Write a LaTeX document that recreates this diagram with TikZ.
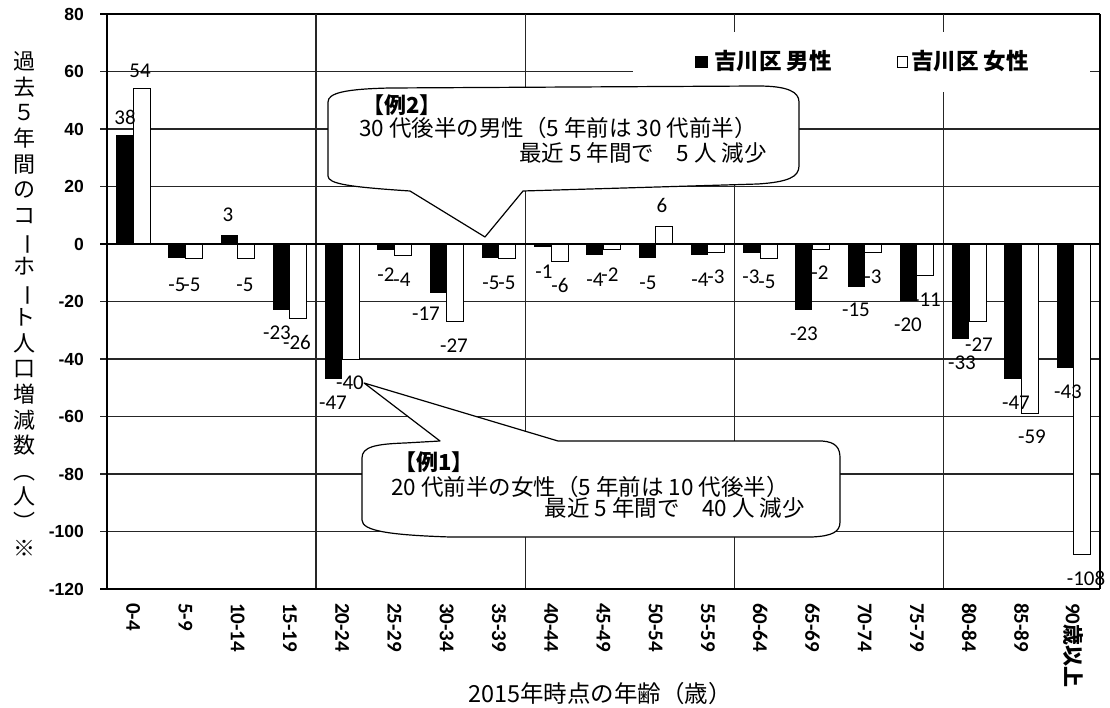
\documentclass[tikz,border=0pt]{standalone}
\usepackage{fontspec}
\newfontfamily\jpfont{Noto Sans CJK JP}
\newfontfamily\labfont{Carlito}
\newfontfamily\axfont{Liberation Sans}
\begin{document}
\begin{tikzpicture}[x=1pt,y=-1pt,
  grid/.style={line width=1.1pt, black!85},
  dl/.style={font=\labfont\fontsize{21}{21}\selectfont, inner sep=0pt},
  tk/.style={font=\axfont\bfseries\fontsize{17.5}{17.5}\selectfont, inner sep=0pt, anchor=east},
  catlab/.style={font=\labfont\bfseries\fontsize{21}{21}\selectfont, inner sep=0pt, anchor=west, rotate=-90},
  callout/.style={draw=black, line width=1.2pt, fill=white, line join=round},
  ctext/.style={font=\jpfont\fontsize{22.5}{22.5}\selectfont, inner sep=0pt},
  ctitle/.style={font=\jpfont\bfseries\fontsize{22}{22}\selectfont, inner sep=0pt},
  leg/.style={font=\jpfont\bfseries\fontsize{22.5}{22.5}\selectfont, inner sep=0pt, anchor=west},
  malebar/.style={fill=black},
  femalebar/.style={draw=black, line width=1pt, fill=white},
]
\useasboundingbox (0,0) rectangle (1110,708);
\fill[white] (0,0) rectangle (1110,708);

% gridlines and frame
\foreach \v in {-100,-80,...,60} \draw[grid] (100,{244-2.875*\v}) -- (1100,{244-2.875*\v});
\draw[line width=1.6pt] (100,14) -- (1100,14);
\foreach \i in {4,8,12,16} \draw[grid] ({107+52.26*\i},14) -- ({107+52.26*\i},589);
\draw[line width=1.4pt] (107,14) -- (107,589);
\draw[line width=1.2pt] (1100,14) -- (1100,589);
\draw[line width=2pt] (100,589) -- (1100,589);

% bars
\foreach \i/\m/\f in {0/38/54, 1/-5/-5, 2/3/-5, 3/-23/-26, 4/-47/-40, 5/-2/-4, 6/-17/-27,
  7/-5/-5, 8/-1/-6, 9/-4/-2, 10/-5/6, 11/-4/-3, 12/-3/-5, 13/-23/-2, 14/-15/-3,
  15/-20/-11, 16/-33/-27, 17/-47/-59, 18/-43/-108} {
  \pgfmathsetmacro\xs{107+52.26*\i}
  \fill[malebar] ({\xs+9},244) rectangle ({\xs+26},{244-2.875*\m});
  \draw[femalebar] ({\xs+26},244) rectangle ({\xs+43},{244-2.875*\f});
}
\draw[line width=2.6pt] (100,244) -- (1100,244);

% y tick labels
\foreach \v [count=\k] in {-120,-100,...,80} \node[tk] (yt\k) at (84,{244-2.875*\v}) {\v};

% category labels
\foreach \c [count=\k from 0] in {0-4,5-9,10-14,15-19,20-24,25-29,30-34,35-39,40-44,45-49,50-54,55-59,60-64,65-69,70-74,75-79,80-84,85-89}
  \node[catlab] (cat\k) at ({107+52.26*(\k+0.5)},603) {\c};
\node[catlab] (cat18) at ({107+52.26*18.5},603) {90{\jpfont\bfseries 歳以上}};

% data labels
\foreach \nm/\tx/\px/\py in {m0/38/125/117, m1/-5/177/285, m2/3/228/215, m3/-23/277/333,
  m4/-47/333/403, m5/-2/386/275, m6/-17/426/314, m7/-5/491/283, m8/-1/544/272,
  m9/-4/595/280, m10/-5/648/283, m11/-4/700/280, m12/-3/751/277, m13/-23/804/334,
  m14/-15/856/310, m15/-20/908/325, m16/-33/962/363, m17/-47/1016/403, m18/-43/1068/392,
  f0/54/140/71, f1/-5/192/285, f2/-5/245/285, f3/-26/297/342, f4/-40/350/383,
  f5/-4/402/280, f6/-27/454/346, f7/-5/507/283, f8/-6/560/285, f9/-2/610/275,
  f10/6/662/205, f11/-3/716/277, f12/-5/767/282, f13/-2/820/273, f14/-3/873/277,
  f15/-11/927/300, f16/-27/979/345, f17/-59/1032/437, f18/-108/1086/578}
  \node[dl] (\nm) at (\px,\py) {\tx};

% legend
\fill[white] (633,32) rectangle (1090,92);
\fill[black] (695,56) rectangle (708,68);
\node[leg] (legm) at (714,61) {吉川区 男性};
\draw[line width=1pt, fill=white] (897,57) rectangle (907,68);
\node[leg] (legf) at (911,61) {吉川区 女性};

% callout 2
\coordinate (tip2) at (485,237);
\draw[callout] (328,102) .. controls (328,93) and (345,89) .. (390,88) -- (758,86)
  .. controls (788,86) and (799,92) .. (799,102) -- (799,166)
  .. controls (799,177) and (788,182) .. (758,184) -- (523,191) -- (tip2) -- (410,191)
  .. controls (350,187) and (328,184) .. (328,176) -- cycle;
\node[ctitle, anchor=west] (c2a) at (362,105) {【例2】};
\node[ctext, anchor=west] (c2b) at (359,128) {30 代後半の男性（5 年前は 30 代前半）};
\node[ctext, anchor=east] (c2c) at (767,153) {最近 5 年間で　5 人 減少};

% callout 1
\draw[callout] (362,458) .. controls (362,447) and (375,444) .. (405,443) -- (440,441)
  -- (f4.east) -- (558,441) -- (822,441)
  .. controls (836,442) and (840,448) .. (840,458) -- (840,522)
  .. controls (840,532) and (832,536) .. (812,537) -- (450,537)
  .. controls (390,535) and (362,531) .. (362,520) -- cycle;
\node[ctitle, anchor=west] (c1a) at (394,462) {【例1】};
\node[ctext, anchor=west] (c1b) at (391,487) {20 代前半の女性（5 年前は 10 代後半）};
\node[ctext, anchor=east] (c1c) at (805,508) {最近 5 年間で　40 人 減少};

% axis titles
\node[font=\jpfont\fontsize{22}{25.6}\selectfont, align=center, inner sep=0pt] (ytitle) at (24,304)
  {過\\去\\５\\年\\間\\の\\コ\\\rotatebox[origin=c]{-90}{ー}\\ホ\\\rotatebox[origin=c]{-90}{ー}\\ト\\人\\口\\増\\減\\数\\︵\\人\\︶\\※};
\node[font=\jpfont\fontsize{23.5}{23.5}\selectfont, inner sep=0pt] (xtitle) at (600,694) {2015年時点の年齢（歳）};
\end{tikzpicture}
\end{document}
